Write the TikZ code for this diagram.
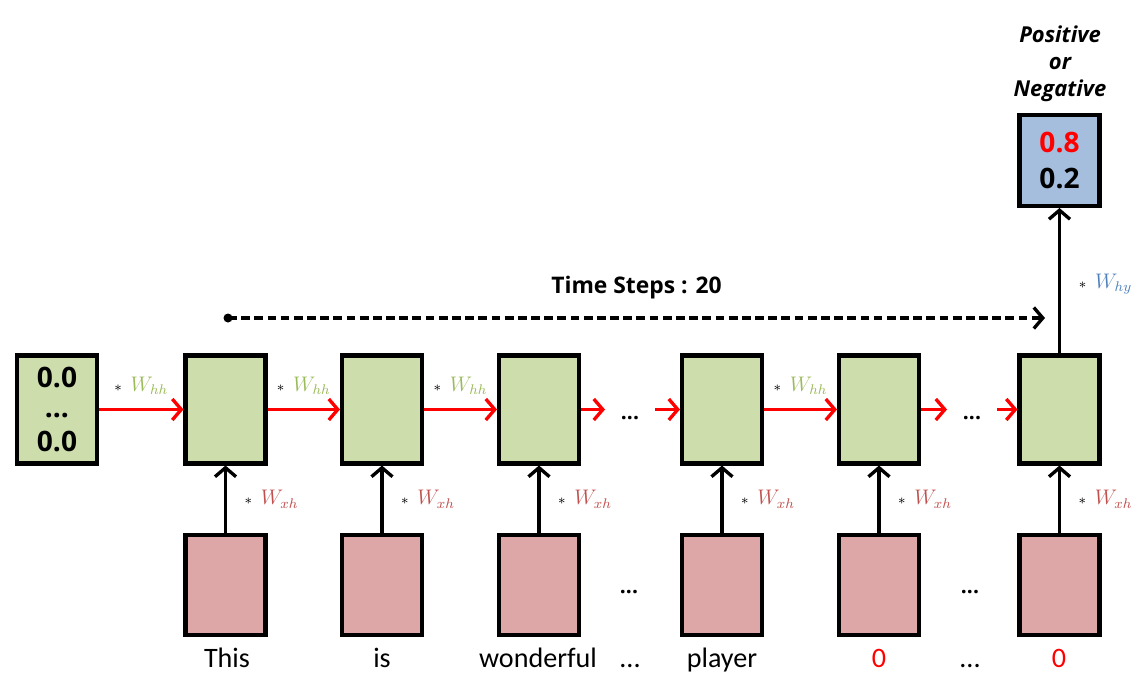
\documentclass[tikz,border=0pt]{standalone}
\usepackage{fontspec}
\setmainfont{Open Sans}
\newfontfamily\wordfont{Carlito}
\usetikzlibrary{arrows.meta}
\definecolor{cellgreen}{RGB}{205,221,172}
\definecolor{inpink}{RGB}{222,167,167}
\definecolor{outblue}{RGB}{166,190,222}
\definecolor{whhgreen}{RGB}{155,187,89}
\definecolor{wxhred}{RGB}{192,80,77}
\definecolor{whyblue}{RGB}{79,129,189}
\tikzset{
  cell/.style={draw, line width=2.3pt, fill=cellgreen, minimum width=1.6cm, minimum height=2.16cm, inner sep=0pt},
  inbox/.style={cell, fill=inpink, minimum height=2.0cm},
  outbox/.style={cell, fill=outblue, minimum height=1.82cm},
  barb/.style={-{Straight Barb[length=1.8mm,width=4.2mm,line width=1.9pt]}},
  recur/.style={red, line width=1.9pt, barb},
  feed/.style={black, line width=1.9pt, barb},
  wlab/.style={inner sep=0pt, text=black, font=\fontsize{12}{12}\selectfont},
  word/.style={anchor=base, inner sep=0pt, font=\wordfont\fontsize{16}{16}\selectfont},
  gap/.style={inner sep=0pt, font=\bfseries\fontsize{12}{12}\selectfont},
  num/.style={align=center, font=\bfseries\fontsize{16}{19.3}\selectfont}
}
\newcommand{\wmul}[2]{{\fontsize{8}{8}\selectfont$\ast$}\hspace{5pt}\textcolor{#1}{$W_{#2}$}}

\begin{document}
\begin{tikzpicture}[x=0.02cm, y=-0.02cm]
  %%%%% START %%%%%
  \useasboundingbox (0,0) rectangle (1134,673);

  % initial hidden state and hidden cells
  \node[cell, num] (h0) at (57,409.5) {0.0\\[-2pt]...\\0.0};
  \node[cell] (h1) at (225.5,409.5) {};
  \node[cell] (h2) at (382,409.5) {};
  \node[cell] (h3) at (539,409.5) {};
  \node[cell] (h4) at (722,409.5) {};
  \node[cell] (h5) at (879,409.5) {};
  \node[cell] (h6) at (1059.5,409.5) {};

  % inputs
  \node[inbox] (x1) at (225.5,585) {};
  \node[inbox] (x2) at (382,585) {};
  \node[inbox] (x3) at (539,585) {};
  \node[inbox] (x4) at (722,585) {};
  \node[inbox] (x5) at (879,585) {};
  \node[inbox] (x6) at (1059.5,585) {};

  % output
  \node[outbox, num, font=\bfseries\fontsize{16}{20}\selectfont] (y) at (1059.5,160.5) {\textcolor{red}{0.8}\\0.2};
  \node[align=center, font=\bfseries\itshape\fontsize{12.5}{15.3}\selectfont] (lab) at (1060,64) {Positive\\or\\Negative};

  % skipped steps
  \coordinate (a1) at (605,409.5);
  \coordinate (b1) at (655,409.5);
  \coordinate (a2) at (947,409.5);
  \coordinate (b2) at (997,409.5);
  \node[gap] (g1) at (630,418) {...};
  \node[gap] (g2) at (972,418) {...};
  \node[gap] (g3) at (629,592) {...};
  \node[gap] (g4) at (970,592) {...};

  % recurrent connections
  \draw[recur] (h0) -- (h1) node[wlab, midway, yshift=0.48cm] {\wmul{whhgreen}{hh}};
  \draw[recur] (h1) -- (h2) node[wlab, midway, yshift=0.48cm] {\wmul{whhgreen}{hh}};
  \draw[recur] (h2) -- (h3) node[wlab, midway, yshift=0.48cm] {\wmul{whhgreen}{hh}};
  \draw[recur] (h3) -- (a1);
  \draw[recur] (b1) -- (h4);
  \draw[recur] (h4) -- (h5) node[wlab, midway, yshift=0.48cm] {\wmul{whhgreen}{hh}};
  \draw[recur] (h5) -- (a2);
  \draw[recur] (b2) -- (h6);

  % input connections
  \foreach \i in {1,...,6}
    \draw[feed] (x\i) -- (h\i) node[wlab, midway, xshift=0.92cm] {\wmul{wxhred}{xh}};

  % output connection
  \draw[feed] (h6) -- (y) node[wlab, midway, xshift=0.92cm, yshift=-0.07cm] {\wmul{whyblue}{hy}};

  % time steps
  \coordinate (t0) at (228,318);
  \coordinate (t1) at (1045,318);
  \fill (t0) circle (4.5);
  \draw[line width=1.9pt, dash pattern=on 5pt off 2.5pt, barb] (t0) -- (t1)
    node[midway, yshift=0.6cm, font=\bfseries\fontsize{13}{13}\selectfont] {Time Steps : 20};

  % words
  \node[word] (w1) at (227,667) {This};
  \node[word] (w2) at (382,667) {is};
  \node[word] (w3) at (538,667) {wonderful};
  \node[word] (w4) at (630,667) {...};
  \node[word] (w5) at (722,667) {player};
  \node[word, red] (w6) at (879,667) {0};
  \node[word] (w7) at (970,667) {...};
  \node[word, red] (w8) at (1059,667) {0};
  %%%%% END %%%%%
\end{tikzpicture}
\end{document}
